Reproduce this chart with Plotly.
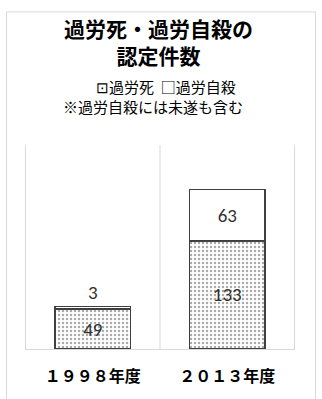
import plotly.graph_objects as go

categories = ["１９９８年度", "２０１３年度"]
karoushi = [49, 133]
karou_jisatsu = [3, 63]
series_names = ["過労死", "過労自殺"]

W, H = 322, 399
ml, mr, mt, mb = 25, 27, 145, 34
pw, ph = W - ml - mr, H - mt - mb

def px_x(p):
    return (p - ml) / pw

def px_y(p):
    return (H - mb - p) / ph

font_jp = "Noto Sans CJK JP"
edge = "#404040"
num_font = dict(family="Carlito, Calibri, Liberation Sans, sans-serif", size=19, color="#303030")

fig = go.Figure()
fig.add_trace(go.Bar(
    x=categories, y=karoushi, name=series_names[0],
    marker=dict(color="white", line=dict(color=edge, width=1.5),
                pattern=dict(shape=".", fgcolor="#555555", bgcolor="white", size=4, solidity=0.3)),
    text=[str(v) for v in karoushi], textposition="inside", insidetextanchor="middle",
    textfont=num_font, width=0.563, showlegend=False,
))
fig.add_trace(go.Bar(
    x=categories, y=karou_jisatsu, name=series_names[1],
    marker=dict(color="white", line=dict(color=edge, width=1.5)),
    text=[str(v) for v in karou_jisatsu], textposition=["outside", "inside"], insidetextanchor="middle",
    textfont=num_font, width=0.563, cliponaxis=False, showlegend=False,
))

shapes = []
for xv in [-0.5, 0.5, 1.5]:
    shapes.append(dict(type="line", xref="x", yref="paper", x0=xv, x1=xv, y0=0, y1=1,
                       line=dict(color="#d9d9d9", width=1), layer="below"))
shapes.append(dict(type="rect", xref="paper", yref="paper",
                   x0=px_x(6.5), x1=px_x(315.5), y0=px_y(1.5), y1=px_y(420),
                   line=dict(color="#d9d9d9", width=1), layer="below"))

annotations = [
    dict(text="<b>過労死・過労自殺の<br>認定件数</b>", xref="paper", yref="paper",
         x=px_x(158), y=px_y(33), showarrow=False, xanchor="center", yanchor="middle",
         font=dict(family=font_jp, size=21, color="black"), align="center"),
    dict(text="⊡" + series_names[0] + "  □" + series_names[1], xref="paper", yref="paper",
         x=px_x(166), y=px_y(82), showarrow=False, xanchor="center", yanchor="middle",
         font=dict(family=font_jp, size=15, color="black")),
    dict(text="※過労自殺には未遂も含む", xref="paper", yref="paper",
         x=px_x(153), y=px_y(104), showarrow=False, xanchor="center", yanchor="middle",
         font=dict(family=font_jp, size=15, color="black")),
]

fig.update_layout(
    width=W, height=H, margin=dict(l=ml, r=mr, t=mt, b=mb),
    barmode="stack", bargap=0.437,
    paper_bgcolor="white", plot_bgcolor="white",
    showlegend=False,
    xaxis=dict(showgrid=False, showline=True, linecolor="#d9d9d9", linewidth=1, ticks="",
               tickfont=dict(family=font_jp, size=16, color="black", weight="bold"),
               ticklabelstandoff=13, fixedrange=True),
    yaxis=dict(range=[0, 251], showgrid=False, showticklabels=False, zeroline=False, showline=False),
    shapes=shapes, annotations=annotations,
)

fig.write_html("out.html")
